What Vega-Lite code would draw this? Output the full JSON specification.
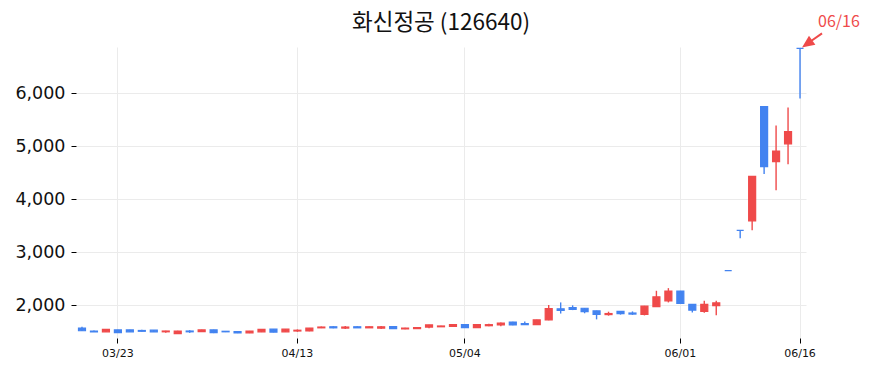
{
  "$schema": "https://vega.github.io/schema/vega-lite/v6.json",
  "width": 730,
  "height": 291,
  "autosize": "none",
  "padding": {"left": 76, "top": 47, "right": 66, "bottom": 35},
  "background": "white",
  "title": {"text": "화신정공 (126640)", "font": "Noto Sans CJK KR", "fontSize": 22.5, "fontWeight": "normal", "color": "#111111", "anchor": "middle", "baseline": "alphabetic", "offset": -38},
  "config": {
    "view": {"stroke": null},
    "axis": {"domain": false, "tickColor": "#000000", "tickWidth": 1, "tickSize": 5, "labelColor": "#111111", "labelFont": "DejaVu Sans", "gridColor": "#ebebeb", "gridWidth": 1, "title": null}
  },
  "data": {"values": [
    {"date": "2023-03-20", "open": 1565, "high": 1590, "low": 1510, "close": 1515},
    {"date": "2023-03-21", "open": 1510, "high": 1520, "low": 1490, "close": 1495},
    {"date": "2023-03-22", "open": 1495, "high": 1545, "low": 1490, "close": 1540},
    {"date": "2023-03-23", "open": 1530, "high": 1535, "low": 1475, "close": 1480},
    {"date": "2023-03-24", "open": 1530, "high": 1535, "low": 1490, "close": 1495},
    {"date": "2023-03-27", "open": 1520, "high": 1535, "low": 1500, "close": 1505},
    {"date": "2023-03-28", "open": 1525, "high": 1528, "low": 1492, "close": 1495},
    {"date": "2023-03-29", "open": 1495, "high": 1515, "low": 1475, "close": 1510},
    {"date": "2023-03-30", "open": 1460, "high": 1515, "low": 1455, "close": 1510},
    {"date": "2023-03-31", "open": 1510, "high": 1525, "low": 1475, "close": 1495},
    {"date": "2023-04-03", "open": 1500, "high": 1535, "low": 1498, "close": 1530},
    {"date": "2023-04-04", "open": 1530, "high": 1535, "low": 1470, "close": 1480},
    {"date": "2023-04-05", "open": 1505, "high": 1510, "low": 1490, "close": 1495},
    {"date": "2023-04-06", "open": 1500, "high": 1503, "low": 1470, "close": 1475},
    {"date": "2023-04-07", "open": 1475, "high": 1512, "low": 1470, "close": 1510},
    {"date": "2023-04-10", "open": 1495, "high": 1545, "low": 1490, "close": 1540},
    {"date": "2023-04-11", "open": 1545, "high": 1548, "low": 1485, "close": 1490},
    {"date": "2023-04-12", "open": 1495, "high": 1548, "low": 1492, "close": 1545},
    {"date": "2023-04-13", "open": 1510, "high": 1540, "low": 1495, "close": 1525},
    {"date": "2023-04-14", "open": 1510, "high": 1568, "low": 1505, "close": 1565},
    {"date": "2023-04-17", "open": 1570, "high": 1595, "low": 1565, "close": 1585},
    {"date": "2023-04-18", "open": 1590, "high": 1600, "low": 1560, "close": 1570},
    {"date": "2023-04-19", "open": 1565, "high": 1605, "low": 1550, "close": 1585},
    {"date": "2023-04-20", "open": 1590, "high": 1598, "low": 1565, "close": 1570},
    {"date": "2023-04-21", "open": 1570, "high": 1595, "low": 1568, "close": 1590},
    {"date": "2023-04-24", "open": 1565, "high": 1605, "low": 1550, "close": 1590},
    {"date": "2023-04-25", "open": 1595, "high": 1598, "low": 1550, "close": 1555},
    {"date": "2023-04-26", "open": 1550, "high": 1570, "low": 1545, "close": 1565},
    {"date": "2023-04-27", "open": 1555, "high": 1580, "low": 1552, "close": 1575},
    {"date": "2023-04-28", "open": 1585, "high": 1630, "low": 1560, "close": 1625},
    {"date": "2023-05-02", "open": 1590, "high": 1610, "low": 1585, "close": 1605},
    {"date": "2023-05-03", "open": 1595, "high": 1635, "low": 1592, "close": 1630},
    {"date": "2023-05-04", "open": 1630, "high": 1635, "low": 1570, "close": 1575},
    {"date": "2023-05-08", "open": 1575, "high": 1632, "low": 1572, "close": 1630},
    {"date": "2023-05-09", "open": 1610, "high": 1645, "low": 1600, "close": 1630},
    {"date": "2023-05-10", "open": 1625, "high": 1670, "low": 1600, "close": 1660},
    {"date": "2023-05-11", "open": 1680, "high": 1685, "low": 1620, "close": 1625},
    {"date": "2023-05-12", "open": 1650, "high": 1690, "low": 1625, "close": 1630},
    {"date": "2023-05-15", "open": 1630, "high": 1722, "low": 1628, "close": 1720},
    {"date": "2023-05-16", "open": 1720, "high": 2000, "low": 1715, "close": 1935},
    {"date": "2023-05-17", "open": 1930, "high": 2050, "low": 1840, "close": 1900},
    {"date": "2023-05-18", "open": 1950, "high": 1995, "low": 1905, "close": 1920},
    {"date": "2023-05-19", "open": 1940, "high": 1945, "low": 1845, "close": 1875},
    {"date": "2023-05-22", "open": 1890, "high": 1895, "low": 1730, "close": 1825},
    {"date": "2023-05-23", "open": 1820, "high": 1875, "low": 1800, "close": 1840},
    {"date": "2023-05-24", "open": 1880, "high": 1885, "low": 1820, "close": 1840},
    {"date": "2023-05-25", "open": 1850, "high": 1880, "low": 1815, "close": 1830},
    {"date": "2023-05-26", "open": 1825, "high": 1985, "low": 1805, "close": 1980},
    {"date": "2023-05-30", "open": 1970, "high": 2270, "low": 1965, "close": 2155},
    {"date": "2023-05-31", "open": 2080, "high": 2320, "low": 2050, "close": 2265},
    {"date": "2023-06-01", "open": 2265, "high": 2268, "low": 2025, "close": 2030},
    {"date": "2023-06-02", "open": 2015, "high": 2020, "low": 1860, "close": 1905},
    {"date": "2023-06-05", "open": 1880, "high": 2080, "low": 1855, "close": 2015},
    {"date": "2023-06-07", "open": 1990, "high": 2080, "low": 1810, "close": 2040},
    {"date": "2023-06-08", "open": 2650, "high": 2650, "low": 2650, "close": 2650},
    {"date": "2023-06-09", "open": 3410, "high": 3410, "low": 3260, "close": 3410},
    {"date": "2023-06-12", "open": 3590, "high": 4430, "low": 3415, "close": 4430},
    {"date": "2023-06-13", "open": 5750, "high": 5750, "low": 4475, "close": 4615},
    {"date": "2023-06-14", "open": 4710, "high": 5390, "low": 4170, "close": 4910},
    {"date": "2023-06-15", "open": 5045, "high": 5730, "low": 4660, "close": 5275},
    {"date": "2023-06-16", "open": 6850, "high": 6850, "low": 5900, "close": 6850}
  ]},
  "encoding": {
    "x": {
      "field": "date",
      "type": "ordinal",
      "scale": {"paddingInner": 0, "paddingOuter": 0},
      "axis": {
        "values": ["2023-03-23", "2023-04-13", "2023-05-04", "2023-06-01", "2023-06-16"],
        "labelExpr": "replace(substring(datum.label, 5), '-', '/')",
        "labelAngle": 0,
        "labelFontSize": 11,
        "labelPadding": 4,
        "grid": true
      }
    }
  },
  "layer": [
    {
      "mark": {"type": "rule", "strokeWidth": 1.4},
      "encoding": {
        "y": {
          "field": "low",
          "type": "quantitative",
          "scale": {"domain": [1378, 6875], "nice": false, "zero": false},
          "axis": {"values": [2000, 3000, 4000, 5000, 6000], "format": ",d", "labelFontSize": 17.5, "labelPadding": 6, "grid": true}
        },
        "y2": {"field": "high"},
        "color": {"condition": {"test": "datum.close > datum.open", "value": "#ef4a4a"}, "value": "#4383f0"}
      }
    },
    {
      "mark": {"type": "bar", "width": 7, "strokeWidth": 1.2},
      "encoding": {
        "y": {"field": "open", "type": "quantitative"},
        "y2": {"field": "close"},
        "fill": {"condition": {"test": "datum.close > datum.open", "value": "#ef4a4a"}, "value": "#4383f0"},
        "stroke": {"condition": {"test": "datum.close > datum.open", "value": "#ef4a4a"}, "value": "#4383f0"}
      }
    },
    {
      "transform": [{"filter": "datum.date == '2023-06-16'"}],
      "mark": {"type": "text", "text": "06/16", "font": "Noto Sans CJK KR", "fontSize": 16, "color": "#ef4a4a", "align": "left", "baseline": "alphabetic", "dx": 18, "dy": -21},
      "encoding": {"y": {"field": "high", "type": "quantitative"}}
    },
    {
      "transform": [{"filter": "datum.date == '2023-06-16'"}],
      "mark": {"type": "point", "filled": true, "shape": "M22,-15L10,-6.6M4,-2.3L13.66,-4.22L9.04,-10.76Z", "size": 4, "fill": "#ef4a4a", "stroke": "#ef4a4a", "strokeWidth": 2, "opacity": 1},
      "encoding": {"y": {"field": "high", "type": "quantitative"}}
    }
  ]
}
